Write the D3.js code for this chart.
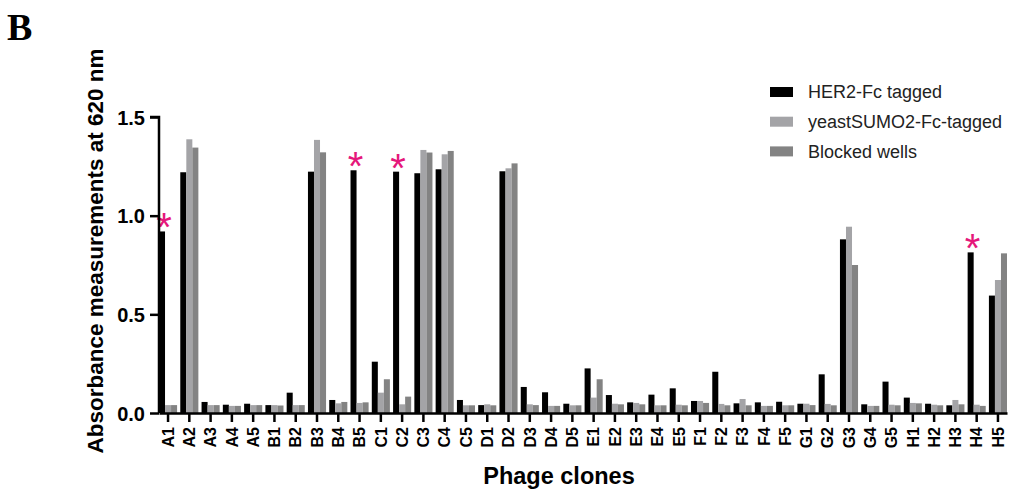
<!DOCTYPE html>
<html>
<head>
<meta charset="utf-8">
<script src="https://cdn.jsdelivr.net/npm/d3@7"></script>
<style>
  body { margin: 0; background: #fff; }
  svg { display: block; font-family: "Liberation Sans", Arial, sans-serif; }
</style>
</head>
<body>
<svg id="chart" width="1011" height="494"></svg>
<script>
const clones = [
  "A1", "A2", "A3", "A4", "A5", "B1", "B2", "B3", "B4", "B5",
  "C1", "C2", "C3", "C4", "C5", "D1", "D2", "D3", "D4", "D5",
  "E1", "E2", "E3", "E4", "E5", "F1", "F2", "F3", "F4", "F5",
  "G1", "G2", "G3", "G4", "G5", "H1", "H2", "H3", "H4", "H5"
];

const her2 = [
  0.92, 1.22, 0.056, 0.042, 0.047, 0.04, 0.103, 1.223, 0.066, 1.23,
  0.26, 1.223, 1.215, 1.235, 0.066, 0.04, 1.225, 0.132, 0.105, 0.047,
  0.226, 0.091, 0.054, 0.093, 0.125, 0.061, 0.209, 0.049, 0.054, 0.057,
  0.047, 0.196, 0.88, 0.044, 0.159, 0.078, 0.047, 0.039, 0.814, 0.595
];

const yeastSumo = [
  0.04, 1.387, 0.04, 0.036, 0.04, 0.04, 0.04, 1.384, 0.049, 0.051,
  0.103, 0.044, 1.333, 1.311, 0.039, 0.044, 1.24, 0.044, 0.036, 0.039,
  0.078, 0.047, 0.051, 0.039, 0.042, 0.061, 0.046, 0.071, 0.036, 0.039,
  0.047, 0.046, 0.944, 0.036, 0.042, 0.051, 0.042, 0.066, 0.042, 0.674
];

const blocked = [
  0.04, 1.345, 0.04, 0.036, 0.04, 0.038, 0.04, 1.321, 0.056, 0.054,
  0.171, 0.083, 1.32, 1.328, 0.039, 0.039, 1.265, 0.04, 0.036, 0.039,
  0.171, 0.044, 0.044, 0.039, 0.039, 0.051, 0.039, 0.039, 0.036, 0.039,
  0.04, 0.039, 0.75, 0.036, 0.039, 0.049, 0.039, 0.044, 0.036, 0.809
];

const seriesNames = ["HER2-Fc tagged", "yeastSUMO2-Fc-tagged", "Blocked wells"];
const seriesColors = ["#000000", "#a4a4a7", "#838383"];
const yTicks = [0, 0.5, 1.0, 1.5];
const starred = ["A1", "B5", "C2", "H4"];

const svg = d3.select("#chart");
const plotLeft = 159, plotRight = 1007, plotTop = 117, plotBottom = 413;

const x = d3.scaleBand().domain(clones).range([plotLeft, plotRight]).paddingInner(0.15).paddingOuter(0);
const xInner = d3.scaleBand().domain(d3.range(3)).range([0, x.bandwidth()]);
const y = d3.scaleLinear().domain([0, 1.5]).range([plotBottom, plotTop]);

const rows = clones.map((c, i) => ({ clone: c, values: [her2[i], yeastSumo[i], blocked[i]] }));

// bars
svg.append("g")
  .selectAll("g")
  .data(rows)
  .join("g")
  .attr("transform", (d) => `translate(${x(d.clone)},0)`)
  .selectAll("rect")
  .data((d) => d.values.map((v, k) => ({ v, k })))
  .join("rect")
  .attr("x", (d) => xInner(d.k))
  .attr("width", xInner.bandwidth())
  .attr("y", (d) => y(d.v))
  .attr("height", (d) => y(0) - y(d.v))
  .attr("fill", (d) => seriesColors[d.k]);

// significance stars
svg.append("g")
  .selectAll("text")
  .data(starred)
  .join("text")
  .attr("x", (c) => x(c) + xInner(0) + xInner.bandwidth() / 2 + 2)
  .attr("y", (c) => y(her2[clones.indexOf(c)]) + 10)
  .attr("text-anchor", "middle")
  .attr("fill", "#e5177b")
  .attr("font-size", 40)
  .text("*");

// y axis
const yAxis = svg.append("g")
  .attr("transform", `translate(${plotLeft},0)`)
  .call(d3.axisLeft(y).tickValues(yTicks).tickFormat(d3.format(".1f")).tickSize(9).tickPadding(5));
yAxis.select(".domain").attr("stroke-width", 2.5).attr("d", `M-9,${plotTop}H0V${plotBottom}`);
yAxis.selectAll(".tick line").attr("stroke-width", 2.5);
yAxis.selectAll(".tick text")
  .attr("font-size", 20)
  .attr("font-weight", "bold")
  .attr("fill", "#000")
  .attr("dy", "0.36em");

// x axis
const xAxis = svg.append("g")
  .attr("transform", `translate(0,${plotBottom})`)
  .call(d3.axisBottom(x).tickSize(9).tickSizeOuter(0));
xAxis.select(".domain").attr("stroke-width", 2.5);
xAxis.selectAll(".tick line").attr("stroke-width", 2.5);
xAxis.selectAll(".tick text")
  .attr("font-size", 16)
  .attr("font-weight", "bold")
  .attr("fill", "#000")
  .attr("transform", "rotate(-90)")
  .attr("text-anchor", "end")
  .attr("x", -14)
  .attr("y", 0)
  .attr("dy", "0.36em");

// axis titles
svg.append("text")
  .attr("transform", "translate(103,251) rotate(-90)")
  .attr("text-anchor", "middle")
  .attr("font-size", 22.5)
  .attr("font-weight", "bold")
  .text("Absorbance measurements at 620 nm");

svg.append("text")
  .attr("x", 559)
  .attr("y", 484)
  .attr("text-anchor", "middle")
  .attr("font-size", 23.5)
  .attr("font-weight", "bold")
  .text("Phage clones");

// panel letter
svg.append("text")
  .attr("x", 7)
  .attr("y", 40)
  .attr("font-family", "'Liberation Serif', 'Times New Roman', serif")
  .attr("font-size", 38)
  .attr("font-weight", "bold")
  .text("B");

// legend
const legend = svg.append("g")
  .selectAll("g")
  .data(seriesNames)
  .join("g")
  .attr("transform", (d, i) => `translate(770,${92 + i * 29.7})`);
legend.append("rect")
  .attr("x", 0)
  .attr("y", -5)
  .attr("width", 23)
  .attr("height", 10)
  .attr("fill", (d, i) => seriesColors[i]);
legend.append("text")
  .attr("x", 38)
  .attr("dy", "0.35em")
  .attr("font-size", 18)
  .attr("fill", "#222")
  .text((d) => d);
</script>
</body>
</html>
